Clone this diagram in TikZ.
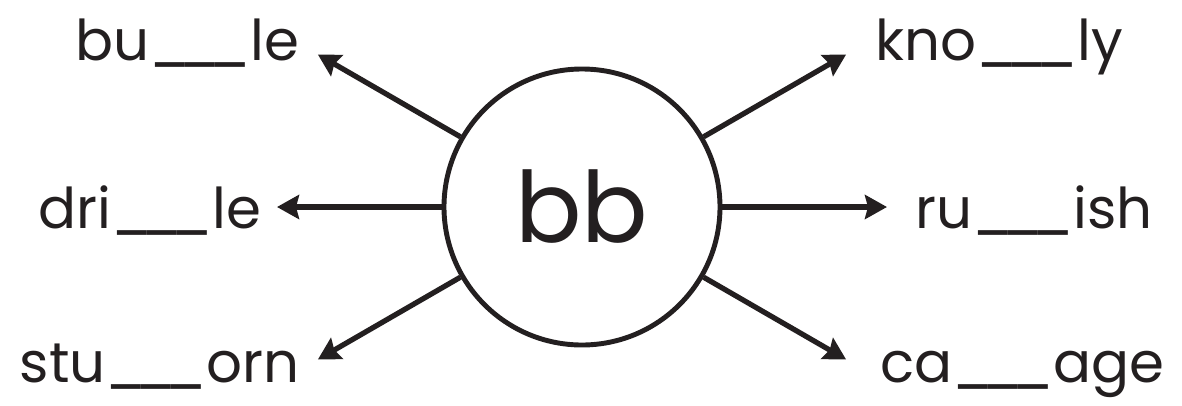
\documentclass[tikz,border=0pt]{standalone}
\usepackage{fontspec}
\setmainfont{Poppins}
\definecolor{Ink}{HTML}{231F20}
\usetikzlibrary{arrows.meta,positioning}
\newcommand\gapline{\_\kern-.2em\_\kern-.2em\_}
\tikzset{
  hub/.style={circle,draw=Ink,line width=2.8pt,minimum size=5.52cm,inner sep=0pt,
    font=\fontsize{56}{60}\selectfont,text=Ink},
  word/.style={inner sep=0pt,font=\fontsize{32}{38}\selectfont,text=Ink},
  arrow/.style={-{Stealth[length=4.4mm,width=4.8mm,inset=0.6mm]},line width=3pt,color=Ink}
}

\begin{document}
\begin{tikzpicture}
  \useasboundingbox (-11.64,-3.96) rectangle (12.0,4.14);
  \node[hub] (bb) at (0,0) {bb};

  % arrow tips, 6.1cm out from the centre
  \foreach \name/\ang in {tul/150,tl/180,tdl/210,tur/30,tr/0,tdr/330}
    \coordinate (\name) at (\ang:6.1);

  % left words
  \node[word,anchor=base east] (w1) at (-5.64,2.94) {bu\gapline le};
  \node[word,anchor=base east] (w2) at (-6.4,-0.42) {dri\gapline le};
  \node[word,anchor=base east] (w3) at (-5.64,-3.5) {stu\gapline orn};
  % right words
  \node[word,anchor=base west] (w4) at (5.86,2.94) {kno\gapline ly};
  \node[word,anchor=base west] (w5) at (6.66,-0.42) {ru\gapline ish};
  \node[word,anchor=base west] (w6) at (5.96,-3.5) {ca\gapline age};

  \foreach \t in {tul,tl,tdl,tur,tr,tdr}
    \draw[arrow] (bb) -- (\t);
\end{tikzpicture}
\end{document}
